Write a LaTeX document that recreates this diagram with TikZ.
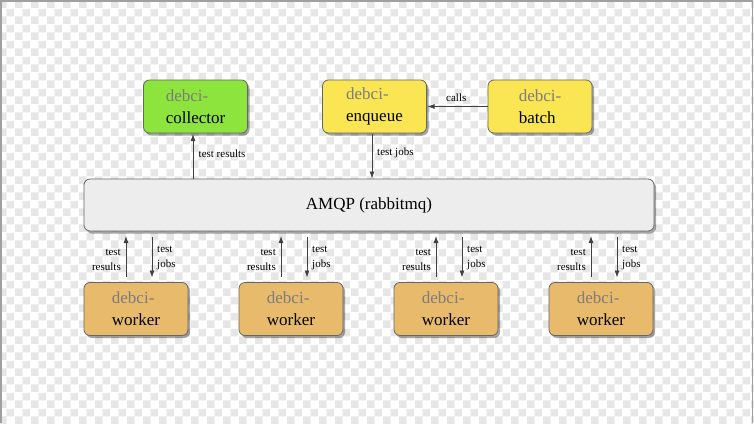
\documentclass[tikz,border=0pt]{standalone}
\usepackage{fontspec}
\setmainfont{Liberation Serif}
\usetikzlibrary{shadows,arrows.meta,calc,patterns}
\definecolor{cgreen}{RGB}{141,228,60}
\definecolor{cyellow}{RGB}{250,229,82}
\definecolor{corange}{RGB}{232,186,108}
\definecolor{camqp}{RGB}{237,237,237}
\definecolor{cdebci}{RGB}{125,125,125}
\definecolor{cchk}{RGB}{230,230,230}
\definecolor{cframe}{RGB}{160,160,160}
\pgfdeclarepatternformonly{mychecker}{\pgfpointorigin}{\pgfpoint{16pt}{16pt}}{\pgfpoint{16pt}{16pt}}{%
  \pgfpathrectangle{\pgfpointorigin}{\pgfpoint{8pt}{8pt}}%
  \pgfpathrectangle{\pgfpoint{8pt}{8pt}}{\pgfpoint{8pt}{8pt}}%
  \pgfusepath{fill}}
\tikzset{
  box/.style={draw=black!60, line width=0.8pt, rounded corners=6pt,
    minimum width=104pt, minimum height=53pt, inner sep=2pt, outer sep=0pt,
    drop shadow={shadow xshift=2pt, shadow yshift=-2.5pt, fill=black, opacity=0.35},
    align=left, font=\fontsize{17}{22}\selectfont},
  arr/.style={draw=black!75, line width=0.8pt, -{Latex[length=7pt,width=5pt]}},
  lbl/.style={font=\fontsize{11}{15}\selectfont, inner sep=0pt},
  frame/.style={draw=cframe, line width=1.5pt}
}
\newcommand{\dbc}[1]{\textcolor{cdebci}{debci-}\\#1}
\begin{document}
\begin{tikzpicture}[x=1pt,y=-1pt]
\useasboundingbox (0,0) rectangle (754,423);
\fill[pattern=mychecker, pattern color=cchk] (0,0) rectangle (754,423);
\draw[frame] (0.75,423) -- (0.75,0.75) -- (752.5,0.75) -- (752.5,423);

\node[box, fill=cgreen] (coll) at (195.5,106.5) {\dbc{collector}};
\node[box, fill=cyellow] (enq) at (374.5,106.5) {\dbc{enqueue}};
\node[box, fill=cyellow] (batch) at (540,106.5) {\dbc{batch}};
\node[box, fill=camqp, minimum width=570pt, minimum height=52pt, align=center] (amqp) at (369,205) {AMQP (rabbitmq)};
\node[box, fill=corange] (w1) at (136,309) {\dbc{worker}};
\node[box, fill=corange] (w2) at (291,309) {\dbc{worker}};
\node[box, fill=corange] (w3) at (446,309) {\dbc{worker}};
\node[box, fill=corange] (w4) at (601,309) {\dbc{worker}};

\draw[arr] ($(amqp.north -| coll.south)+(-2.5,0)$) -- ($(coll.south)+(-2.5,1)$);
\node[lbl, anchor=west] (lcoll) at ($(coll.south)+(3,21)$) {test results};

\draw[arr] ($(enq.south)+(-2.5,1)$) -- ($(amqp.north -| enq.south)+(-2.5,-0.5)$);
\node[lbl, anchor=west] (lenq) at ($(enq.south)+(2.5,20)$) {test jobs};

\draw[arr] (batch.west) -- ($(enq.east)+(1,0)$);
\node[lbl] (lcalls) at ($(enq.east)!0.5!(batch.west)+(-1,-9)$) {calls};

\foreach \w in {w1,w2,w3,w4} {
  \draw[arr] ($(\w.north)+(-10,-6)$) -- ($(amqp.south -| \w.north)+(-10,5)$);
  \draw[arr] ($(amqp.south -| \w.north)+(16,6)$) -- ($(\w.north)+(16,-5)$);
  \node[lbl, align=right, anchor=east] (\w r) at ($(\w.north)+(-15,-23)$) {test\\results};
  \node[lbl, align=left, anchor=west] (\w j) at ($(\w.north)+(21,-24)$) {test\\jobs};
}
\end{tikzpicture}
\end{document}
